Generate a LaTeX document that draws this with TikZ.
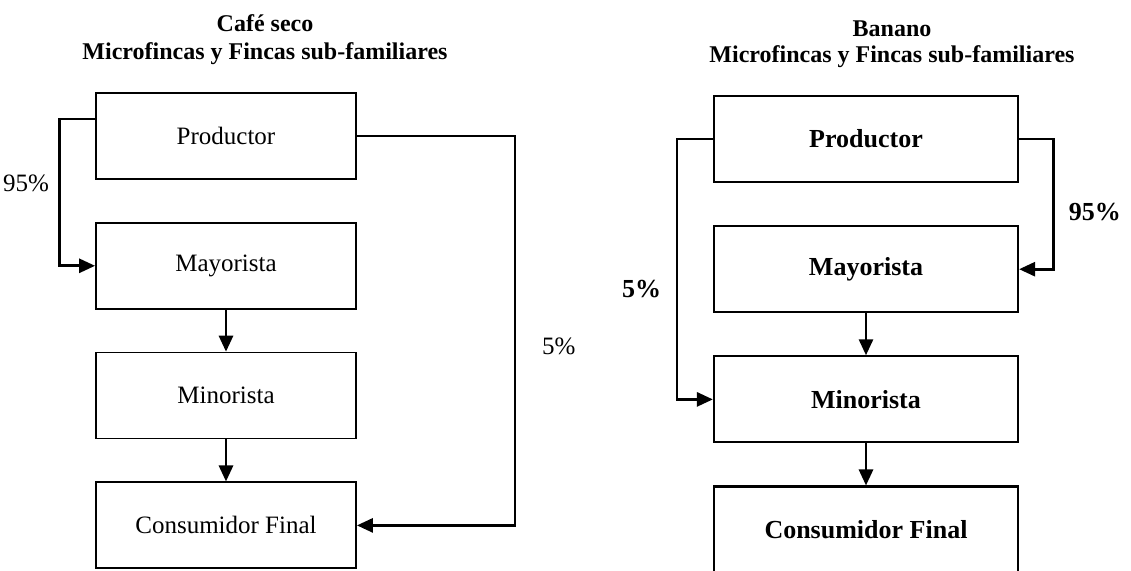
\documentclass[tikz,border=0pt]{standalone}
\usepackage{fontspec}
\setmainfont{Liberation Serif}
\usetikzlibrary{positioning,arrows.meta}
\newcommand{\gapbox}{21pt}
\tikzset{
    common/.style={draw, rectangle, line width=0.9pt, minimum height=43pt},
    cafe/.style={common, minimum width=130pt, font=\fontsize{12.5}{15}\selectfont},
    banano/.style={common, minimum width=152pt, line width=1.1pt, font=\bfseries\fontsize{13}{15}\selectfont},
    heading/.style={anchor=base, font=\bfseries\fontsize{12}{14}\selectfont},
    share/.style={anchor=base west, font=\fontsize{12.5}{15}\selectfont},
    sharebold/.style={share, font=\bfseries\fontsize{13}{15}\selectfont},
    flow/.style={-{Triangle[length=8pt, width=7pt]}, line width=1.4pt}
}

\begin{document}
\begin{tikzpicture}[x=0.5pt, y=-0.5pt]
    \useasboundingbox (0,0) rectangle (1131,571);
    \clip (0,0) rectangle (1131,571);

    % cafe seco
    \node[heading] (ctitle) at (265,32) {Café seco};
    \node[heading] (csub) at (265,60) {Microfincas y Fincas sub-familiares};
    \node[cafe] (cprod) at (226,136) {Productor};
    \node[cafe, below=\gapbox of cprod] (cmay) {Mayorista};
    \node[cafe, below=\gapbox of cmay] (cmin) {Minorista};
    \node[cafe, below=\gapbox of cmin] (ccons) {Consumidor Final};

    \draw[flow] ([yshift=8.5pt]cprod.west) -- ++(-36,0) |- (cmay.west);
    \draw[flow] (cprod.east) -- ++(158,0) |- (ccons.east);
    \draw[flow] (cmay) -- (cmin);
    \draw[flow] (cmin) -- (ccons);
    \node[share, anchor=base east] (cpct95) at (56,192) {95\%};
    \node[share] (cpct5) at (535,355) {5\%};

    % banano
    \node[heading] (btitle) at (892,37) {Banano};
    \node[heading] (bsub) at (892,63) {Microfincas y Fincas sub-familiares};
    \node[banano] (bprod) at (866,139) {Productor};
    \node[banano, below=\gapbox of bprod] (bmay) {Mayorista};
    \node[banano, below=\gapbox of bmay] (bmin) {Minorista};
    \node[banano, below=\gapbox of bmin] (bcons) {Consumidor Final};

    \draw[flow] (bprod.west) -- ++(-36,0) |- (bmin.west);
    \draw[flow] (bprod.east) -- ++(34,0) |- (bmay.east);
    \draw[flow] (bmay) -- (bmin);
    \draw[flow] (bmin) -- (bcons);
    \node[sharebold] (bpct5) at (615,298) {5\%};
    \node[sharebold, anchor=base east] (bpct95) at (1128,221) {95\%};
\end{tikzpicture}
\end{document}
